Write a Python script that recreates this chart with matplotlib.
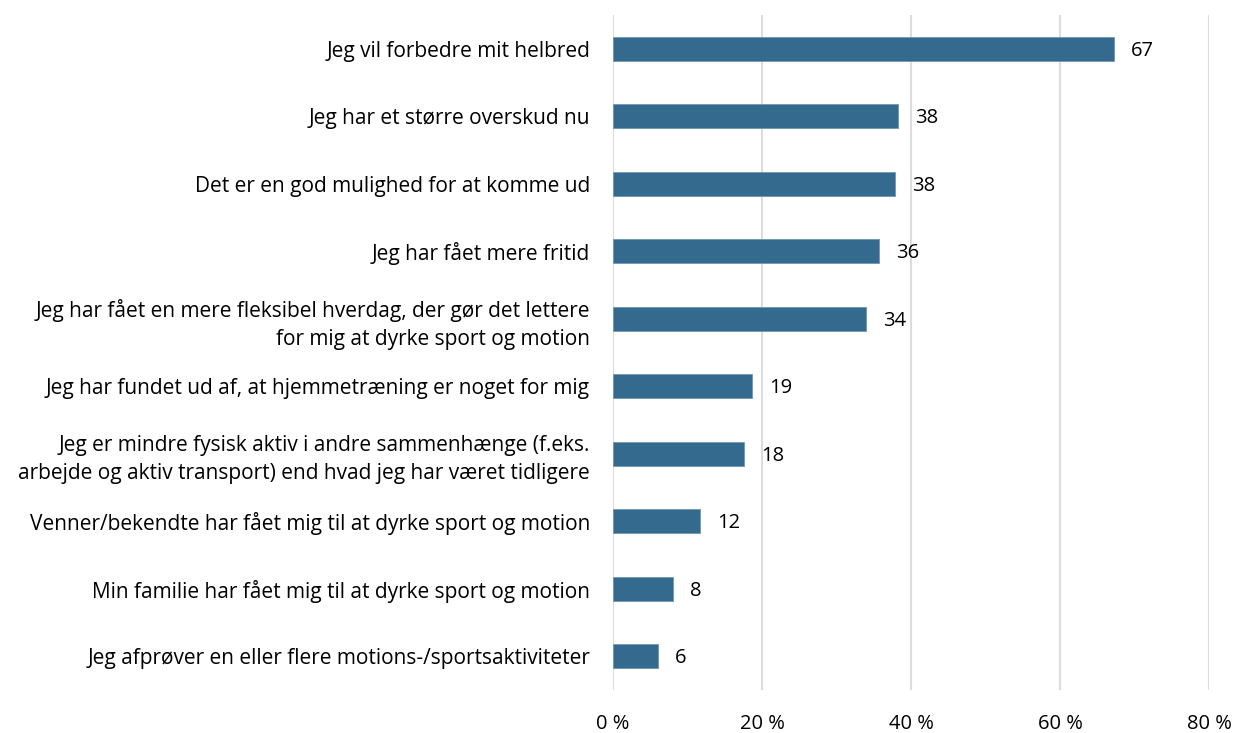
import numpy as np
import matplotlib
matplotlib.use('Agg')
import matplotlib.pyplot as plt
from matplotlib.ticker import FuncFormatter

categories = [
    'Jeg vil forbedre mit helbred',
    'Jeg har et større overskud nu',
    'Det er en god mulighed for at komme ud',
    'Jeg har fået mere fritid',
    'Jeg har fået en mere fleksibel hverdag, der gør det lettere\nfor mig at dyrke sport og motion',
    'Jeg har fundet ud af, at hjemmetræning er noget for mig',
    'Jeg er mindre fysisk aktiv i andre sammenhænge (f.eks.\narbejde og aktiv transport) end hvad jeg har været tidligere',
    'Venner/bekendte har fået mig til at dyrke sport og motion',
    'Min familie har fået mig til at dyrke sport og motion',
    'Jeg afprøver en eller flere motions-/sportsaktiviteter',
]
values = [67.2, 38.2, 37.8, 35.7, 34.0, 18.6, 17.6, 11.7, 8.1, 6.0]
labels = ['67', '38', '38', '36', '34', '19', '18', '12', '8', '6']
xticks = [0, 20, 40, 60, 80]

plt.rcParams['font.family'] = ['Open Sans', 'DejaVu Sans']

fig = plt.figure(figsize=(12.34, 7.33), dpi=100)
ax = fig.add_axes([613 / 1234, 1 - 690 / 733, 596 / 1234, 675 / 733])

y = np.arange(len(categories))
ax.barh(y, values, height=0.355, color='#336a8e', edgecolor='#6f97b3', linewidth=0.6, zorder=3)
for yi, v, lab in zip(y, values, labels):
    ax.text(v + 2.3, yi + 0.03, lab, va='center', ha='left', fontsize=14.5, color='black')

ax.set_xlim(0, 80)
ax.set_ylim(len(categories) - 0.5, -0.5)
ax.set_xticks(xticks)
ax.xaxis.set_major_formatter(FuncFormatter(lambda v, p: f'{v:.0f} %'))
ax.set_yticks(y)
ax.set_yticklabels(categories, fontsize=15, linespacing=1.4)
ax.tick_params(axis='y', length=0, pad=16.5)
ax.tick_params(axis='x', length=0, pad=17.5, labelsize=14.5)
ax.grid(axis='x', color='#dcdcdc', linewidth=1.5, zorder=0)
for s in ax.spines.values():
    s.set_visible(False)

plt.savefig('out.png', dpi=100)
plt.close()
